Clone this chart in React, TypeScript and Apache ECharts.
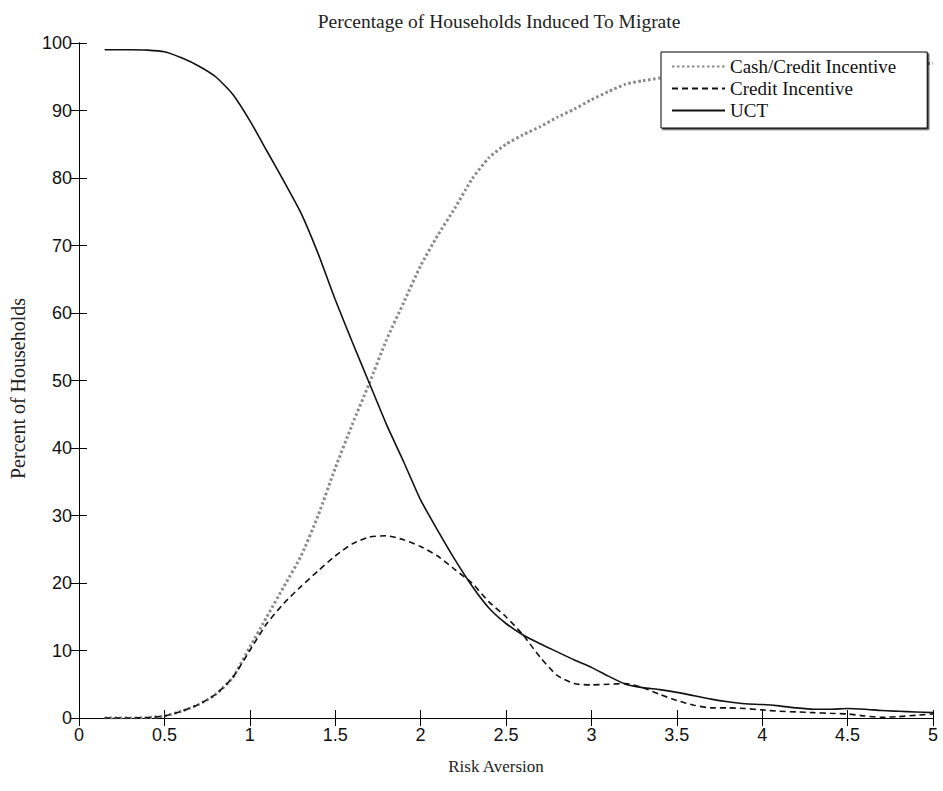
import React, { useEffect, useRef } from "react";
import * as echarts from "echarts";

const xs = [0.15, 0.2, 0.3, 0.4, 0.5, 0.6, 0.7, 0.8, 0.9, 1.0, 1.1, 1.2, 1.3, 1.4, 1.5, 1.6, 1.7, 1.8, 1.9, 2.0, 2.1, 2.2, 2.3, 2.4, 2.5, 2.6, 2.7, 2.8, 2.9, 3.0, 3.1, 3.2, 3.3, 3.4, 3.5, 3.6, 3.7, 3.8, 3.9, 4.0, 4.1, 4.2, 4.3, 4.4, 4.5, 4.6, 4.7, 4.8, 4.9, 5.0];

const cashCredit = [0, 0, 0, 0.05, 0.3, 1.0, 2.0, 3.5, 6.0, 10.5, 15.0, 19.5, 24.0, 30.0, 37.0, 43.5, 49.6, 56.0, 61.5, 67.0, 71.5, 75.5, 79.8, 83.0, 85.0, 86.4, 87.6, 89.0, 90.2, 91.6, 92.8, 93.9, 94.4, 94.8, 95.2, 95.5, 95.7, 95.9, 96.0, 96.1, 96.2, 96.3, 96.4, 96.5, 96.6, 96.7, 96.8, 96.9, 96.9, 97.0];

const credit = [0, 0, 0, 0.05, 0.3, 1.0, 2.0, 3.5, 6.0, 10.0, 14.0, 17.0, 19.5, 21.8, 24.0, 25.8, 26.8, 27.0, 26.4, 25.4, 24.0, 22.0, 20.0, 17.2, 15.0, 12.3, 9.0, 6.3, 5.1, 4.9, 5.0, 5.1, 4.5, 3.5, 2.6, 1.9, 1.5, 1.5, 1.4, 1.2, 1.0, 0.9, 0.8, 0.7, 0.6, 0.3, 0.1, 0.2, 0.4, 0.6];

const uct = [99.0, 99.0, 99.0, 98.95, 98.7, 97.8, 96.6, 95.0, 92.4, 88.5, 84.0, 79.5, 74.8, 68.8, 62.0, 55.7, 49.6, 43.5, 38.0, 32.3, 27.8, 23.5, 19.6, 16.3, 14.0, 12.3, 11.0, 9.8, 8.6, 7.5, 6.2, 5.0, 4.5, 4.2, 3.8, 3.3, 2.8, 2.4, 2.1, 2.0, 1.8, 1.5, 1.3, 1.3, 1.4, 1.3, 1.1, 1.0, 0.9, 0.8];

const seriesNames = ["Cash/Credit Incentive", "Credit Incentive", "UCT"];

const serif = "'Liberation Serif', 'DejaVu Serif', serif";
const sans = "'Liberation Sans', Arial, sans-serif";

const pairs = (ys: number[]) => xs.map((x, i) => [x, ys[i]]);

export default function App() {
  const ref = useRef<HTMLDivElement>(null);
  useEffect(() => {
    if (!ref.current) return;
    const chart = echarts.init(ref.current, null, { renderer: "svg" });
    const axisLine = () => ({ show: true, lineStyle: { color: "#000", width: 1 } });
    const tick = () => ({ show: true, inside: true, length: 8, lineStyle: { color: "#000", width: 1 } });
    chart.setOption({
      animation: false,
      backgroundColor: "#fff",
      title: {
        text: "Percentage of Households Induced To Migrate",
        left: 494,
        textAlign: "center",
        top: 6,
        textStyle: { fontFamily: serif, fontSize: 19.5, fontWeight: "normal", color: "#222" },
      },
      grid: { left: 77, right: 10, top: 43, bottom: 73, containLabel: false },
      legend: {
        data: seriesNames,
        orient: "vertical",
        left: 661,
        top: 52,
        itemWidth: 53,
        itemHeight: 10,
        itemGap: 3,
        padding: [5, 31, 8, 10],
        backgroundColor: "#fff",
        borderColor: "#000",
        borderWidth: 1,
        borderRadius: 0,
        shadowColor: "rgba(0,0,0,0.7)",
        shadowOffsetX: 1.5,
        shadowOffsetY: 1.5,
        shadowBlur: 0,
        itemStyle: { opacity: 0 },
        textStyle: { fontFamily: serif, fontSize: 19, color: "#111" },
      },
      xAxis: [
        {
          type: "value",
          min: 0,
          max: 5,
          interval: 0.5,
          position: "bottom",
          name: "Risk Aversion",
          nameLocation: "middle",
          nameGap: 40,
          nameTextStyle: { fontFamily: serif, fontSize: 17, color: "#222", padding: [0, 20, 0, 0] },
          axisLine: axisLine(),
          axisTick: tick(),
          splitLine: { show: false },
          axisLabel: { fontFamily: sans, fontSize: 18, color: "#111", margin: 8 },
        },
        {
          type: "value",
          min: 0,
          max: 5,
          interval: 0.5,
          position: "top",
          axisLine: axisLine(),
          axisTick: tick(),
          splitLine: { show: false },
          axisLabel: { show: false },
        },
      ],
      yAxis: [
        {
          type: "value",
          min: 0,
          max: 100,
          interval: 10,
          position: "left",
          name: "Percent of Households",
          nameLocation: "middle",
          nameGap: 51,
          nameTextStyle: { fontFamily: serif, fontSize: 20, color: "#222", padding: [0, 16, 0, 0] },
          axisLine: axisLine(),
          axisTick: tick(),
          splitLine: { show: false },
          axisLabel: { fontFamily: sans, fontSize: 18, color: "#111", margin: 7 },
        },
        {
          type: "value",
          min: 0,
          max: 100,
          interval: 10,
          position: "right",
          axisLine: axisLine(),
          axisTick: tick(),
          splitLine: { show: false },
          axisLabel: { show: false },
        },
      ],
      series: [
        {
          name: seriesNames[0],
          type: "line",
          data: pairs(cashCredit),
          showSymbol: false,
          symbol: "none",
          smooth: 0.2,
          z: 2,
          itemStyle: { color: "#8a8a8a" },
          lineStyle: { color: "#8a8a8a", width: 3, type: [2.5, 2.5] },
        },
        {
          name: seriesNames[1],
          type: "line",
          data: pairs(credit),
          showSymbol: false,
          symbol: "none",
          smooth: 0.2,
          z: 3,
          itemStyle: { color: "#111" },
          lineStyle: { color: "#111", width: 1.6, type: [6, 4] },
        },
        {
          name: seriesNames[2],
          type: "line",
          data: pairs(uct),
          showSymbol: false,
          symbol: "none",
          smooth: 0.2,
          z: 4,
          itemStyle: { color: "#111" },
          lineStyle: { color: "#111", width: 1.6 },
        },
      ],
    });
    return () => chart.dispose();
  }, []);
  return <div ref={ref} style={{ width: 943, height: 791, position: "absolute", left: 0, top: 0 }} />;
}
